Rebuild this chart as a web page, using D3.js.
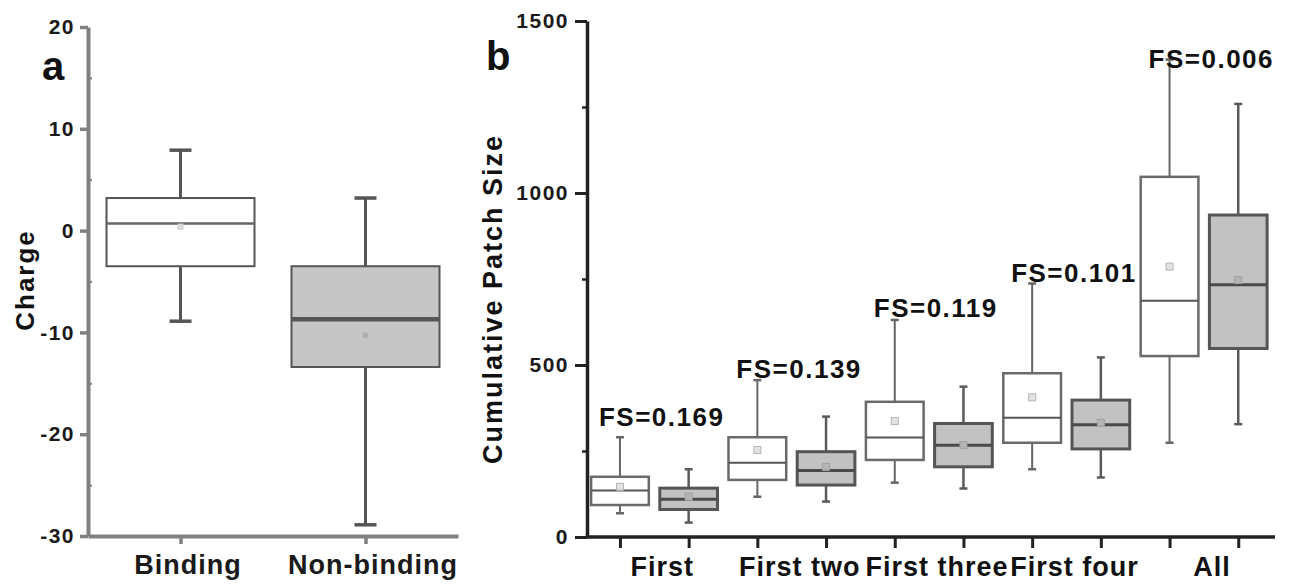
<!DOCTYPE html>
<html>
<head>
<meta charset="utf-8">
<script src="https://cdn.jsdelivr.net/npm/d3@7"></script>
<style>
body { margin: 0; background: #fff; }
svg { display: block; font-family: "Liberation Sans", Arial, sans-serif; font-weight: bold; }
</style>
</head>
<body>
<svg id="chart" width="1293" height="584"></svg>
<script>
// panel a: charge
const chargeGroups = ["Binding", "Non-binding"];
const chargeLow = [-8.9, -28.9];
const chargeQ1 = [-3.5, -13.4];
const chargeMedian = [0.7, -8.7];
const chargeQ3 = [3.2, -3.5];
const chargeHigh = [7.9, 3.2];
const chargeMean = [0.4, -10.3];
const chargeTicks = [-30, -20, -10, 0, 10, 20];
const chargeMinor = [-25, -15, -5, 5, 15];

// panel b: cumulative patch size, white = binding, grey = non-binding
const patchGroups = ["First", "First two", "First three", "First four", "All"];
const bindLow = [69, 117, 158, 197, 274];
const bindQ1 = [93, 166, 224, 274, 526];
const bindMedian = [135, 216, 289, 347, 687];
const bindQ3 = [175, 290, 393, 476, 1047];
const bindHigh = [290, 456, 631, 737, 1388];
const bindMean = [146, 253, 337, 406, 786];
const nonLow = [42, 103, 141, 173, 328];
const nonQ1 = [80, 151, 204, 256, 548];
const nonMedian = [110, 193, 267, 326, 733];
const nonQ3 = [142, 248, 330, 398, 936];
const nonHigh = [197, 350, 437, 522, 1259];
const nonMean = [117, 204, 267, 332, 747];
const fsLabels = ["FS=0.169", "FS=0.139", "FS=0.119", "FS=0.101", "FS=0.006"];
const fsLabelAt = [323, 462, 640, 741, 1363];
const patchTicks = [0, 500, 1000, 1500];
const patchMinor = [250, 750, 1250];

const svg = d3.select("#chart");
const plain = d => String(d).replace("\u2212", "-");

function drawBox(g, d, cx, w, y, st) {
    const b = g.append("g");
    // whiskers
    b.append("line").attr("x1", cx).attr("x2", cx)
        .attr("y1", y(d.q3)).attr("y2", y(d.high))
        .attr("stroke", st.whisker).attr("stroke-width", st.whiskerWidth);
    b.append("line").attr("x1", cx).attr("x2", cx)
        .attr("y1", y(d.q1)).attr("y2", y(d.low))
        .attr("stroke", st.whisker).attr("stroke-width", st.whiskerWidth);
    [d.high, d.low].forEach(v => {
        b.append("line").attr("x1", cx - st.cap / 2).attr("x2", cx + st.cap / 2)
            .attr("y1", y(v)).attr("y2", y(v))
            .attr("stroke", st.whisker).attr("stroke-width", st.capWidth);
    });
    b.append("rect")
        .attr("x", cx - w / 2).attr("width", w)
        .attr("y", y(d.q3)).attr("height", y(d.q1) - y(d.q3))
        .attr("fill", st.fill).attr("stroke", st.stroke).attr("stroke-width", st.strokeWidth);
    b.append("line").attr("x1", cx - w / 2).attr("x2", cx + w / 2)
        .attr("y1", y(d.median)).attr("y2", y(d.median))
        .attr("stroke", st.median).attr("stroke-width", st.medianWidth);
    b.append("rect")
        .attr("x", cx - st.meanSize / 2).attr("y", y(d.mean) - st.meanSize / 2)
        .attr("width", st.meanSize).attr("height", st.meanSize)
        .attr("fill", st.meanFill).attr("stroke", st.meanStroke).attr("stroke-width", 1);
}

function styleAxis(ax, color, width, fontSize, spacing) {
    ax.attr("font-family", null).attr("font-size", null);
    ax.select(".domain").attr("stroke", color).attr("stroke-width", width);
    ax.selectAll(".tick line").attr("stroke", color).attr("stroke-width", width - 0.5);
    ax.selectAll(".tick text").attr("font-size", fontSize).attr("letter-spacing", spacing)
        .attr("fill", "#1a1a1a").attr("font-weight", "bold");
}

// ---------- panel a ----------
const xA = d3.scalePoint().domain(chargeGroups).range([88, 458]).padding(0.5);
const yA = d3.scaleLinear().domain([-30, 20]).range([536, 27]);
const gA = svg.append("g");

const styleA = [
    {fill: "#fff", stroke: "#555", strokeWidth: 2, median: "#666", medianWidth: 2.5,
     whisker: "#555", whiskerWidth: 3, cap: 22, capWidth: 3.5,
     meanSize: 5, meanFill: "#ddd", meanStroke: "#ccc"},
    {fill: "#c6c6c6", stroke: "#555", strokeWidth: 2, median: "#555", medianWidth: 4.5,
     whisker: "#555", whiskerWidth: 3, cap: 22, capWidth: 3.5,
     meanSize: 5, meanFill: "#aaa", meanStroke: "#bbb"}
];

chargeGroups.forEach((c, i) => {
    drawBox(gA, {low: chargeLow[i], q1: chargeQ1[i], median: chargeMedian[i],
                 q3: chargeQ3[i], high: chargeHigh[i], mean: chargeMean[i]},
            xA(c), xA.step() * 0.8, yA, styleA[i]);
});

const axA = gA.append("g").attr("transform", "translate(88,0)")
    .call(d3.axisLeft(yA).tickValues(chargeTicks).tickFormat(plain)
        .tickSize(8).tickSizeOuter(0).tickPadding(5));
styleAxis(axA, "#808080", 4, 21, 1.5);

const minA = gA.append("g").attr("transform", "translate(88,0)")
    .call(d3.axisRight(yA).tickValues(chargeMinor).tickSize(4).tickFormat(""));
minA.select(".domain").remove();
minA.selectAll(".tick line").attr("stroke", "#808080").attr("stroke-width", 2);

const axAx = gA.append("g").attr("transform", "translate(0,536)")
    .call(d3.axisBottom(xA).tickSize(8).tickSizeOuter(0).tickPadding(11));
styleAxis(axAx, "#808080", 4, 27, 1);
axAx.selectAll(".tick text").attr("dx", 7);

gA.append("text")
    .attr("transform", "translate(34,280) rotate(-90)")
    .attr("text-anchor", "middle").attr("font-size", 26).attr("letter-spacing", 2)
    .attr("fill", "#111").text("Charge");

gA.append("text").attr("x", 42).attr("y", 80)
    .attr("font-size", 40).attr("fill", "#111").text("a");

// ---------- panel b ----------
const boxesB = patchGroups.flatMap((g, i) => [
    {key: g + "|bind", group: g, kind: "bind", low: bindLow[i], q1: bindQ1[i], median: bindMedian[i],
     q3: bindQ3[i], high: bindHigh[i], mean: bindMean[i]},
    {key: g + "|non", group: g, kind: "non", low: nonLow[i], q1: nonQ1[i], median: nonMedian[i],
     q3: nonQ3[i], high: nonHigh[i], mean: nonMean[i]}
]);

const xB = d3.scalePoint().domain(boxesB.map(d => d.key)).range([585.6, 1272.6]).padding(0.5);
const yB = d3.scaleLinear().domain([0, 1500]).range([537, 21]);
const gB = svg.append("g");

const styleB = {
    bind: {fill: "#fff", stroke: "#6a6a6a", strokeWidth: 2.5, median: "#555", medianWidth: 2,
           whisker: "#666", whiskerWidth: 2, cap: 8, capWidth: 2.5,
           meanSize: 7, meanFill: "#e2e2e2", meanStroke: "#b5b5b5"},
    non: {fill: "#c2c2c2", stroke: "#555", strokeWidth: 3, median: "#4a4a4a", medianWidth: 3,
          whisker: "#5a5a5a", whiskerWidth: 2.5, cap: 8, capWidth: 2.5,
          meanSize: 7, meanFill: "#b4b4b4", meanStroke: "#a0a0a0"}
};

boxesB.forEach(d => drawBox(gB, d, xB(d.key), xB.step() * 0.84, yB, styleB[d.kind]));

const axB = gB.append("g").attr("transform", "translate(587,0)")
    .call(d3.axisLeft(yB).tickValues(patchTicks).tickFormat(plain)
        .tickSize(12).tickSizeOuter(0).tickPadding(6));
styleAxis(axB, "#222", 3.5, 21, 1.5);

const minB = gB.append("g").attr("transform", "translate(587,0)")
    .call(d3.axisLeft(yB).tickValues(patchMinor).tickSize(5).tickFormat(""));
minB.select(".domain").remove();
minB.selectAll(".tick line").attr("stroke", "#222").attr("stroke-width", 2.5);

const axBx = gB.append("g").attr("transform", "translate(0,537)")
    .call(d3.axisBottom(xB).tickSize(11).tickSizeOuter(0).tickFormat(""));
styleAxis(axBx, "#222", 3.5, 27, 1);
axBx.select(".domain").attr("d", "M587,0H1275");

gB.append("g").selectAll("text")
    .data(patchGroups)
    .enter().append("text")
    .attr("x", g => (xB(g + "|bind") + xB(g + "|non")) / 2 + 8)
    .attr("y", 576)
    .attr("text-anchor", "middle")
    .attr("font-size", 27).attr("letter-spacing", 1)
    .attr("fill", "#111")
    .text(g => g);

gB.append("g").selectAll("text")
    .data(fsLabels)
    .enter().append("text")
    .attr("x", (t, i) => xB(patchGroups[i] + "|bind") - 21)
    .attr("y", (t, i) => yB(fsLabelAt[i]))
    .attr("font-size", 26).attr("letter-spacing", 1.5)
    .attr("fill", "#111")
    .text(t => t);

gB.append("text")
    .attr("transform", "translate(502,299) rotate(-90)")
    .attr("text-anchor", "middle").attr("font-size", 27).attr("letter-spacing", 2)
    .attr("fill", "#111").text("Cumulative Patch Size");

gB.append("text").attr("x", 486).attr("y", 70)
    .attr("font-size", 40).attr("fill", "#111").text("b");
</script>
</body>
</html>
